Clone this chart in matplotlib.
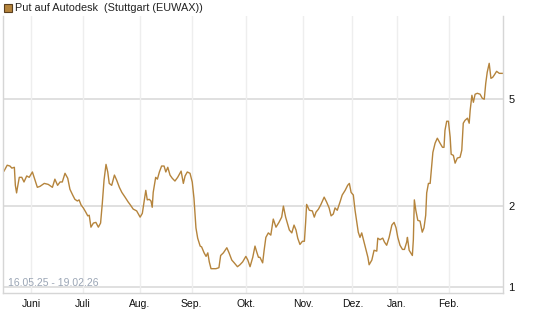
import numpy as np
import matplotlib
matplotlib.use("Agg")
import matplotlib.pyplot as plt
from matplotlib.ticker import FixedLocator, NullLocator, NullFormatter

plt.rcParams['font.family'] = ['Liberation Sans', 'DejaVu Sans']

# trading session number (0 = 16.05.25) and price
session = [0, 1.3, 2.4, 3.2, 4.2, 4.6, 5.1, 5.4, 6.2, 7.2, 8.1, 9.2, 10.2, 11.5, 12.3,
           13.5, 14.6, 16.3, 17.9, 19.6, 20.6, 21.7, 22.7, 23.6, 24.7, 25.8, 26.7,
           27.8, 28.7, 29.7, 30.4, 31.2, 32.1, 33.1, 33.9, 34.5, 35.2, 36.2, 37.2,
           38.2, 39.1, 39.8, 40.5, 41.3, 42.0, 42.6, 43.6, 44.7, 45.6, 46.7, 47.7,
           49.0, 50.3, 51.0, 52.3, 53.7, 55.1, 56.0, 56.7, 57.4, 58.0, 58.8, 59.5,
           60.0, 60.4, 61.4, 62.1, 62.9, 63.8, 64.8, 65.5, 66.3, 67.2, 68.1, 69.2,
           70.3, 71.7, 72.6, 73.3, 74.2, 75.3, 76.2, 76.9, 77.3, 77.7, 78.4, 79.4,
           80.0, 81.0, 81.8, 82.5, 83.1, 83.8, 84.7, 85.8, 87.0, 87.7, 88.8, 90.2,
           91.1, 92.2, 93.2, 94.5, 95.5, 96.6, 97.9, 98.7, 99.6, 100.7, 101.6, 102.3,
           103.0, 103.6, 104.7, 105.3, 106.0, 107.0, 108.0, 109.0, 110.1, 111.3,
           112.4, 113.1, 114.0, 114.7, 115.5, 116.5, 117.4, 118.2, 118.9, 119.8,
           120.8, 121.6, 122.1, 122.5, 123.6, 124.8, 125.6, 126.3, 127.3, 128.3,
           129.6, 130.6, 131.6, 132.4, 133.3, 134.0, 134.9, 136.0, 136.9, 138.1,
           139.1, 139.8, 140.5, 141.4, 142.1, 142.8, 143.4, 144.1, 144.8, 145.5,
           146.6, 147.3, 147.8, 148.9, 149.8, 150.9, 151.3, 152.2, 153.3, 154.0,
           154.9, 155.9, 157.0, 157.9, 158.7, 159.4, 160.3, 161.3, 162.1, 163.0,
           163.3, 164.0, 165.3, 165.7, 166.1, 166.7, 167.5, 168.4, 169.3, 170.0,
           170.7, 171.1, 171.8, 172.5, 173.2, 173.6, 174.5, 175.4, 176.5, 177.5,
           178.1, 178.5, 179.2, 179.9, 180.6, 181.0, 181.9, 182.6, 183.5, 184.6,
           185.3, 185.9, 186.6, 187.6, 188.3, 188.7, 189.4, 190.0, 190.7, 191.6,
           192.7, 193.6, 194.4, 195.0, 195.6, 196.4, 197.1, 197.8, 198.4, 199.4,
           200.5, 201.7]
price = [2.70, 2.84, 2.82, 2.77, 2.79, 2.39, 2.24, 2.33, 2.56, 2.56, 2.46, 2.59, 2.56, 2.68, 2.54,
         2.35, 2.37, 2.43, 2.41, 2.35, 2.52, 2.39, 2.46, 2.46, 2.65, 2.54, 2.31,
         2.20, 2.12, 2.09, 2.11, 2.02, 1.97, 1.90, 1.84, 1.85, 1.67, 1.73, 1.74,
         1.67, 1.73, 2.05, 2.50, 2.86, 2.68, 2.43, 2.39, 2.61, 2.50, 2.35, 2.25,
         2.16, 2.07, 2.03, 1.95, 1.92, 1.82, 1.88, 2.07, 2.29, 2.11, 2.12, 2.09,
         1.98, 2.25, 2.56, 2.52, 2.68, 2.82, 2.82, 2.68, 2.79, 2.61, 2.54, 2.48,
         2.56, 2.70, 2.43, 2.59, 2.68, 2.65, 2.46, 2.14, 1.88, 1.66, 1.52, 1.42,
         1.41, 1.34, 1.30, 1.34, 1.24, 1.17, 1.17, 1.17, 1.18, 1.31, 1.34, 1.40,
         1.34, 1.26, 1.23, 1.19, 1.21, 1.24, 1.30, 1.26, 1.19, 1.29, 1.42, 1.35,
         1.29, 1.29, 1.23, 1.37, 1.53, 1.59, 1.56, 1.79, 1.67, 1.74,
         1.82, 2.00, 1.82, 1.73, 1.63, 1.59, 1.70, 1.63, 1.52, 1.44,
         1.48, 1.48, 1.74, 2.03, 1.93, 1.92, 1.82, 1.90, 1.95, 2.03,
         2.16, 2.07, 1.97, 1.84, 1.87, 1.97, 1.93, 2.07, 2.20, 2.29,
         2.39, 2.43, 2.25, 2.20, 1.93, 1.74, 1.60, 1.53, 1.59, 1.50,
         1.37, 1.29, 1.21, 1.26, 1.37, 1.36, 1.52, 1.50, 1.52, 1.47,
         1.43, 1.53, 1.70, 1.74, 1.66, 1.53, 1.43, 1.38, 1.38, 1.47,
         1.53, 1.37, 1.31, 1.50, 2.11, 1.93, 1.77, 1.76, 1.60, 1.66,
         1.85, 2.24, 2.43, 2.43, 2.89, 3.17, 3.43, 3.58, 3.43, 3.31,
         3.31, 3.83, 4.14, 4.14, 3.61, 3.12, 3.09, 2.89, 3.02, 3.04,
         3.23, 4.07, 4.17, 4.25, 4.07, 4.55, 5.17, 4.87, 5.22, 5.26,
         5.22, 5.04, 5.00, 5.73, 6.30, 6.80, 5.98, 6.03, 6.14, 6.35,
         6.24, 6.24]

month_labels = ['Juni', 'Juli', 'Aug.', 'Sep.', 'Okt.', 'Nov.', 'Dez.', 'Jan.', 'Feb.']
month_session = [11, 32, 55, 76, 98, 121, 141, 159, 180]
y_ticks = [1, 2, 5]

fig = plt.figure(figsize=(5.45, 3.27), dpi=100)
ax = fig.add_axes([0.0055, 0.104, 0.9175, 0.847])

ax.plot(session, price, color='#b5843c', lw=1.0)

ax.set_yscale('log')
ax.set_ylim(0.95, 10.2)
ax.set_xlim(-0.4, 202.0)

ax.yaxis.set_major_locator(FixedLocator(y_ticks))
ax.yaxis.set_minor_locator(NullLocator())
ax.yaxis.set_minor_formatter(NullFormatter())
ax.set_yticklabels([str(t) for t in y_ticks])
ax.yaxis.tick_right()
ax.tick_params(axis='y', length=0, pad=4, labelsize=8, labelcolor='#111111')

ax.set_xticks(month_session)
ax.set_xticklabels(month_labels)
ax.tick_params(axis='x', length=0, pad=4, labelsize=7.5, labelcolor='#111111')

for t in y_ticks:
    ax.axhline(t, color='#dadada', lw=1.2, zorder=0)
for s in month_session:
    ax.axvline(s, color='#eeeeee', lw=1.0, zorder=0)

for side in ['left', 'bottom', 'right']:
    ax.spines[side].set_color('#d6d6d6')
    ax.spines[side].set_linewidth(1.0)
ax.spines['top'].set_visible(False)

ax.text(0.01, 0.018, '16.05.25 - 19.02.26', transform=ax.transAxes,
        fontsize=7.5, color='#9aa5b5', ha='left', va='bottom')

# legend box at top
fig.patches.append(plt.Rectangle((4 / 545, 1 - 12 / 327), 8 / 545, 8 / 327,
                                 transform=fig.transFigure, facecolor='#b5843c',
                                 edgecolor='#5a4020', lw=0.8))
fig.text(15 / 545, 1 - 8 / 327, 'Put auf Autodesk  (Stuttgart (EUWAX))',
         fontsize=7.8, color='#222222', ha='left', va='center')

fig.savefig('out.png', dpi=100)
